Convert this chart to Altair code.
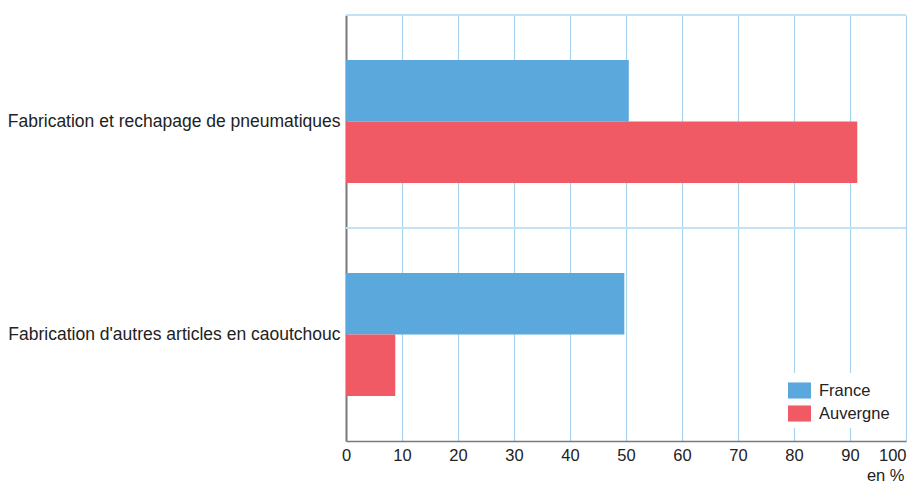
import altair as alt
import pandas as pd

categories = ["Fabrication et rechapage de pneumatiques", "Fabrication d'autres articles en caoutchouc"]
series = ["France", "Auvergne"]
france = [50.5, 49.7]
auvergne = [91.3, 8.8]
x_ticks = [0, 10, 20, 30, 40, 50, 60, 70, 80, 90, 100]

rows = []
for c, f, a in zip(categories, france, auvergne):
    rows.append({"category": c, "series": "France", "value": f})
    rows.append({"category": c, "series": "Auvergne", "value": a})
df = pd.DataFrame(rows)
cat_df = pd.DataFrame({"category": categories})

FONT = "Liberation Sans"
BLUE = "#5BA8DC"
RED = "#F05A64"
GRID = "#A9D4EF"
TXT = "#222222"

W, H = 560, 426

y_enc = alt.Y("category:N", sort=categories,
              scale=alt.Scale(paddingInner=0, paddingOuter=0),
              axis=alt.Axis(title=None, grid=False, ticks=False, tickSize=0,
                            domainColor="#7a7a7a", domainWidth=2,
                            labelPadding=6, labelLimit=0, labelFont=FONT,
                            labelFontSize=17.5, labelColor=TXT))

bars = alt.Chart(df).mark_bar().encode(
    x=alt.X("value:Q", scale=alt.Scale(domain=[0, 100], nice=False),
            axis=alt.Axis(values=x_ticks, grid=True, gridColor=GRID, gridWidth=1.2,
                          ticks=False, tickSize=0, domainColor="#7a7a7a", domainWidth=1.5,
                          labelFont=FONT, labelFontSize=16.5, labelColor=TXT,
                          labelPadding=6, labelFlush=False,
                          labelAlign=alt.ExprRef("datum.value == 100 ? 'right' : 'center'"),
                          title="en %", titleFont=FONT, titleFontSize=16.5,
                          titleFontWeight="normal", titleColor=TXT,
                          titleAnchor="end", titleAlign="right",
                          titleX=W - 2, titleY=39, titleBaseline="alphabetic")),
    y=y_enc,
    yOffset=alt.YOffset("series:N", sort=series,
                        scale=alt.Scale(paddingInner=0, paddingOuter=0.73)),
    color=alt.Color("series:N", sort=series,
                    scale=alt.Scale(domain=series, range=[BLUE, RED]),
                    legend=alt.Legend(title=None, orient="none", legendX=436, legendY=358,
                                      padding=6, fillColor="white",
                                      symbolType="M-1,-0.7H1V0.7H-1Z", symbolSize=529,
                                      symbolStrokeWidth=0, symbolOpacity=1,
                                      labelFont=FONT, labelFontSize=16.5, labelColor=TXT,
                                      labelOffset=8, rowPadding=3)),
)

hrules = alt.Chart(cat_df).mark_rule(color="#C3E2F4", strokeWidth=2).encode(
    y=alt.Y("category:N", sort=categories, bandPosition=0),
    x=alt.value(0),
    x2=alt.value(W),
)

chart = alt.layer(hrules, bars).properties(
    width=W, height=H,
    autosize=alt.AutoSizeParams(type="none"),
    padding={"left": 338, "top": 7, "right": 1, "bottom": 44},
).configure_view(stroke=None)

chart.save("out.html", embed_options={"renderer": "svg", "actions": False})
